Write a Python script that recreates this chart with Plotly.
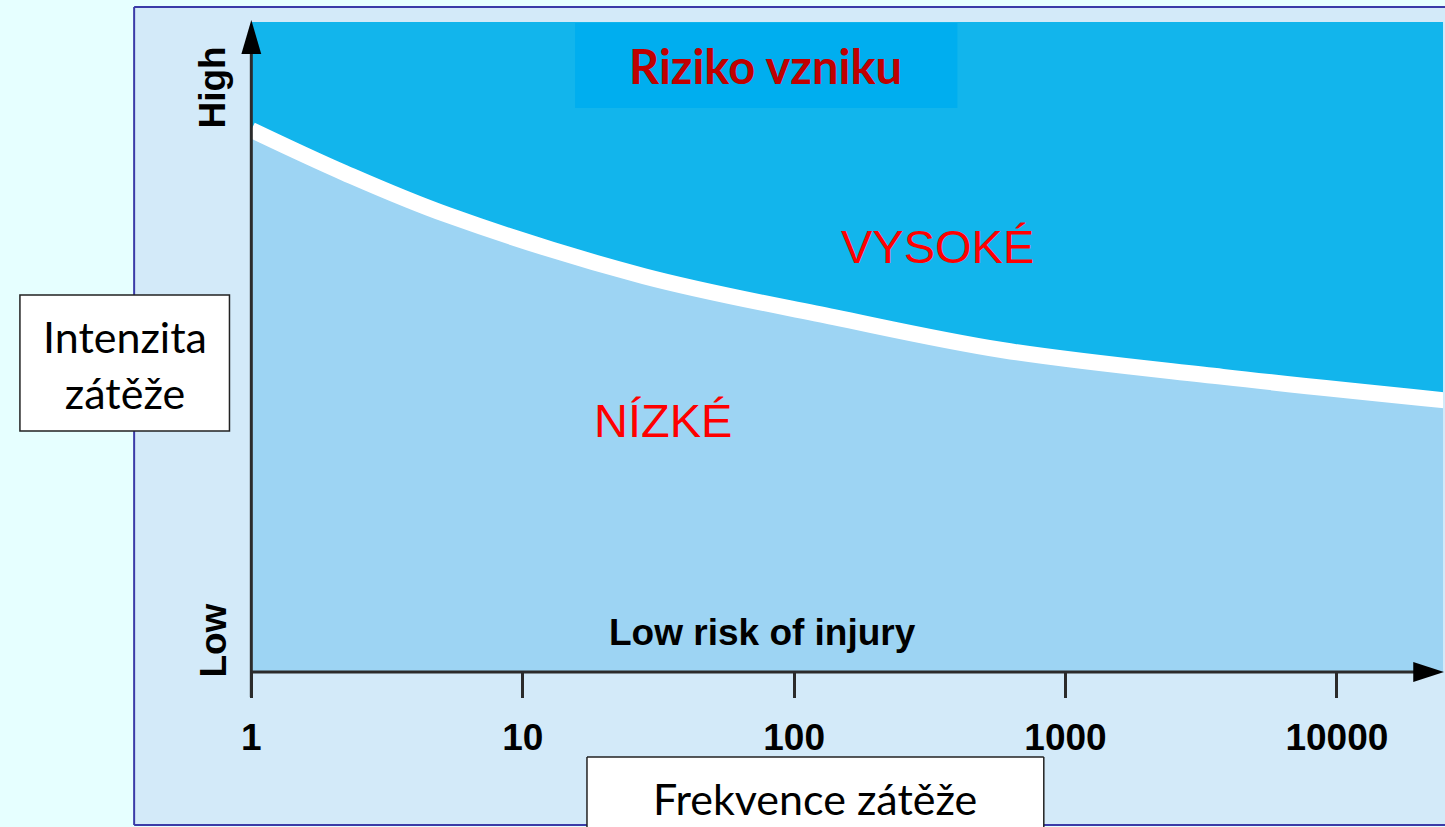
import plotly.graph_objects as go

W, H = 1445, 827

# ---- data ----
frequency = [1, 2.2, 5.3, 28, 140, 590, 3800, 25000]
threshold = [83.4, 76.8, 70.3, 60.9, 54.6, 49.5, 45.4, 41.8]
y_top = [100] * len(frequency)
tick_values = [1, 10, 100, 1000, 10000]
tick_labels = ["1", "10", "100", "1000", "10000"]

LOW_COL = "#9dd4f3"
HIGH_COL = "#12b5ec"
AX_COL = "#2b2b2b"
BORDER = "#3b3ba8"


def fx(px):
    return px / W


def fy(py):
    return 1 - py / H


fig = go.Figure()
fig.add_trace(go.Scatter(x=frequency, y=threshold, mode="lines", line=dict(width=0, color=LOW_COL, shape="spline"),
                         fill="tozeroy", fillcolor=LOW_COL, hoverinfo="skip", showlegend=False))
fig.add_trace(go.Scatter(x=frequency, y=y_top, mode="lines", line=dict(width=0, color=HIGH_COL),
                         fill="tonexty", fillcolor=HIGH_COL, hoverinfo="skip", showlegend=False))
fig.add_trace(go.Scatter(x=frequency, y=threshold, mode="lines", line=dict(width=16, color="white", shape="spline"),
                         hoverinfo="skip", showlegend=False))

shapes = []


def pline(x0, y0, x1, y1, color, width, layer="above"):
    shapes.append(dict(type="line", xref="paper", yref="paper", x0=fx(x0), x1=fx(x1), y0=fy(y0), y1=fy(y1),
                       line=dict(color=color, width=width), layer=layer))


# panel (fill + left/top/bottom border), kept inside the page
shapes.append(dict(type="rect", xref="paper", yref="paper", x0=fx(125), x1=1, y0=fy(825), y1=fy(7),
                   fillcolor="#d3eaf9", line=dict(width=0), layer="below"))
pline(125, 7, 125, 825, BORDER, 2, "below")
pline(125, 7, 1445, 7, BORDER, 2, "below")
pline(125, 825, 1445, 825, BORDER, 2, "below")
# y axis line + arrow
pline(243, 697, 243, 45, AX_COL, 3)
shapes.append(dict(type="path", xref="paper", yref="paper",
                   path=f"M {fx(243)} {fy(20)} L {fx(233)} {fy(54)} L {fx(253)} {fy(54)} Z",
                   fillcolor="black", line=dict(width=0), layer="above"))
# x axis line + arrow
pline(243, 672, 1420, 672, AX_COL, 3)
shapes.append(dict(type="path", xref="paper", yref="paper",
                   path=f"M {fx(1444)} {fy(672)} L {fx(1413)} {fy(662)} L {fx(1413)} {fy(682)} Z",
                   fillcolor="black", line=dict(width=0), layer="above"))
# title box
shapes.append(dict(type="rect", xref="paper", yref="paper", x0=fx(569), x1=fx(954), y0=fy(108), y1=fy(23),
                   fillcolor="#00aeef", line=dict(width=0), layer="above"))
# y label box
shapes.append(dict(type="rect", xref="paper", yref="paper", x0=fx(10), x1=fx(221), y0=fy(431), y1=fy(295),
                   fillcolor="white", line=dict(color="#222", width=1.5), layer="above"))
# x label box (runs off the bottom edge)
shapes.append(dict(type="rect", xref="paper", yref="paper", x0=fx(581), x1=fx(1041), y0=0, y1=fy(757),
                   fillcolor="white", line=dict(width=0), layer="above"))
pline(581, 757, 1041, 757, "#222", 1.5)
pline(581, 757, 581, 827, "#222", 1.5)
pline(1041, 757, 1041, 827, "#222", 1.5)

ann = []


def add_text(text, px, py, size, color="black", family="Liberation Sans, Arial", bold=False, angle=0):
    ann.append(dict(text=f"<b>{text}</b>" if bold else text, x=fx(px), y=fy(py), xref="paper", yref="paper",
                    xanchor="center", yanchor="middle", showarrow=False, textangle=angle,
                    font=dict(size=size, color=color, family=family)))


add_text("Riziko vzniku", 761, 66, 47, color="#c00000", family="Lato", bold=True)
add_text("VYSOKÉ", 934, 246, 47, color="#ff0000")
add_text("NÍZKÉ", 658, 420, 47, color="#ff0000")
add_text("Low risk of injury", 758, 632, 37, bold=True)
add_text("High", 204, 88, 37, bold=True, angle=-90)
add_text("Low", 204, 641, 37, bold=True, angle=-90)
add_text("Intenzita<br>zátěže", 116, 364, 43, family="Lato")
add_text("Frekvence zátěže", 811, 798, 43, family="Lato")

fig.update_layout(
    width=W, height=H, autosize=False,
    margin=dict(l=0, r=0, t=0, b=0),
    paper_bgcolor="#e6ffff", plot_bgcolor="rgba(0,0,0,0)",
    shapes=shapes, annotations=ann, showlegend=False,
    xaxis=dict(type="log", domain=[fx(243), fx(1443)], range=[0, 4.391], showgrid=False, zeroline=False,
               showline=False, ticks="outside", ticklen=25, tickwidth=2.5, tickcolor=AX_COL,
               ticklabelstandoff=8,
               tickvals=tick_values, ticktext=[f"<b>{t}</b>" for t in tick_labels],
               tickfont=dict(size=37, family="Liberation Sans, Arial", color="black")),
    yaxis=dict(domain=[fy(672), fy(22)], range=[0, 100], showgrid=False, zeroline=False,
               showline=False, showticklabels=False, ticks=""),
)

fig.write_html("out.html", config={"responsive": False, "displayModeBar": False},
               post_script="document.body.style.margin='0';document.body.style.overflow='hidden';")
